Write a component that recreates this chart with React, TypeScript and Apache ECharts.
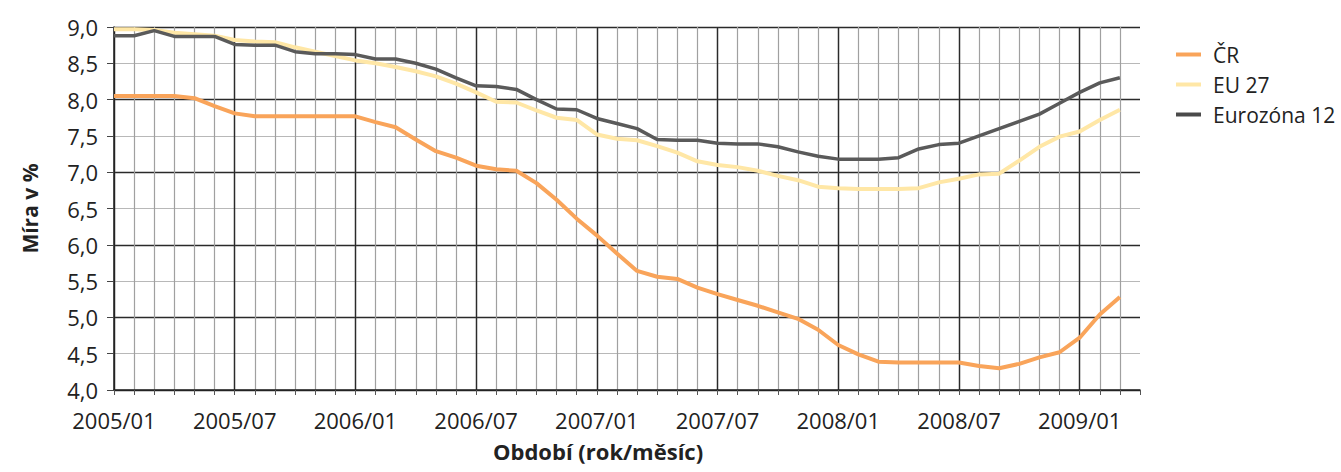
import React, { useEffect, useRef } from "react";
import * as echarts from "echarts";

const months = [
  "2005/01", "2005/02", "2005/03", "2005/04", "2005/05", "2005/06",
  "2005/07", "2005/08", "2005/09", "2005/10", "2005/11", "2005/12",
  "2006/01", "2006/02", "2006/03", "2006/04", "2006/05", "2006/06",
  "2006/07", "2006/08", "2006/09", "2006/10", "2006/11", "2006/12",
  "2007/01", "2007/02", "2007/03", "2007/04", "2007/05", "2007/06",
  "2007/07", "2007/08", "2007/09", "2007/10", "2007/11", "2007/12",
  "2008/01", "2008/02", "2008/03", "2008/04", "2008/05", "2008/06",
  "2008/07", "2008/08", "2008/09", "2008/10", "2008/11", "2008/12",
  "2009/01", "2009/02", "2009/03", "2009/04",
];

const cr = [
  8.05, 8.05, 8.05, 8.05, 8.02, 7.91, 7.81, 7.77, 7.77, 7.77, 7.77, 7.77,
  7.77, 7.69, 7.62, 7.45, 7.29, 7.2, 7.09, 7.04, 7.02, 6.85, 6.62, 6.36,
  6.13, 5.88, 5.64, 5.56, 5.53, 5.41, 5.32, 5.24, 5.16, 5.07, 4.98, 4.83,
  4.62, 4.49, 4.39, 4.38, 4.38, 4.38, 4.38, 4.33, 4.3, 4.36, 4.45, 4.52,
  4.72, 5.04, 5.28,
];

const eu27 = [
  8.97, 8.97, 8.96, 8.92, 8.9, 8.88, 8.82, 8.8, 8.79, 8.72, 8.66, 8.6,
  8.54, 8.5, 8.45, 8.39, 8.32, 8.22, 8.1, 7.97, 7.96, 7.85, 7.75, 7.72,
  7.52, 7.46, 7.44, 7.36, 7.27, 7.15, 7.1, 7.07, 7.02, 6.95, 6.89, 6.8,
  6.78, 6.77, 6.77, 6.77, 6.78, 6.86, 6.91, 6.97, 6.98, 7.16, 7.35, 7.49,
  7.56, 7.72, 7.86,
];

const ez12 = [
  8.88, 8.88, 8.95, 8.87, 8.87, 8.87, 8.76, 8.75, 8.75, 8.66, 8.63, 8.63,
  8.62, 8.56, 8.56, 8.5, 8.42, 8.3, 8.19, 8.18, 8.14, 8.0, 7.87, 7.86,
  7.74, 7.67, 7.6, 7.45, 7.44, 7.44, 7.4, 7.39, 7.39, 7.35, 7.28, 7.22,
  7.18, 7.18, 7.18, 7.2, 7.32, 7.38, 7.4, 7.5, 7.6, 7.7, 7.8, 7.95,
  8.1, 8.23, 8.3,
];

const seriesNames = ["ČR", "EU 27", "Eurozóna 12"];
const yTitle = "Míra v %";
const xTitle = "Období (rok/měsíc)";

const FONT = "'Open Sans', 'Noto Sans', sans-serif";

export default function App() {
  const ref = useRef<HTMLDivElement>(null);

  useEffect(() => {
    if (!ref.current) return;
    const chart = echarts.init(ref.current, undefined, { renderer: "svg" });
    const lastIdx = months.length - 1;
    chart.setOption({
      animation: false,
      backgroundColor: "#ffffff",
      textStyle: { fontFamily: FONT },
      grid: { left: 114, top: 27, right: 201, bottom: 82, containLabel: false },
      legend: {
        orient: "vertical",
        left: 1171,
        top: 39,
        itemWidth: 25,
        itemHeight: 4,
        itemGap: 9,
        icon: "rect",
        data: seriesNames,
        textStyle: {
          fontFamily: FONT,
          fontSize: 21,
          color: "#222",
          padding: [0, 0, 0, 7],
        },
      },
      xAxis: [
        {
          type: "category",
          data: months,
          boundaryGap: false,
          position: "bottom",
          axisLine: { show: true, lineStyle: { color: "#222", width: 1.5 } },
          axisTick: {
            show: true,
            interval: 0,
            length: 5,
            lineStyle: { color: "#555", width: 1 },
          },
          axisLabel: {
            interval: 5,
            fontFamily: FONT,
            fontSize: 22,
            lineHeight: 20,
            color: "#222",
            margin: 20,
          },
          splitLine: {
            show: true,
            interval: (i: number) => i < lastIdx,
            lineStyle: { color: "#a0a0a0", width: 1.2 },
          },
        },
        {
          type: "category",
          data: months,
          boundaryGap: false,
          position: "bottom",
          axisLine: { show: false },
          axisTick: { show: false },
          axisLabel: { show: false },
          splitLine: {
            show: true,
            interval: 5,
            lineStyle: { color: "#2a2a2a", width: 1.4 },
          },
        },
      ],
      yAxis: [
        {
          type: "value",
          min: 4,
          max: 9,
          interval: 0.5,
          position: "left",
          name: yTitle,
          nameLocation: "middle",
          nameGap: 74,
          nameRotate: 90,
          nameTextStyle: {
            fontFamily: FONT,
            fontSize: 21,
            fontWeight: "bold",
            color: "#222",
          },
          axisLine: { show: true, lineStyle: { color: "#222", width: 1.5 } },
          axisTick: {
            show: true,
            length: 7,
            lineStyle: { color: "#444", width: 1 },
          },
          axisLabel: {
            fontFamily: FONT,
            fontSize: 22,
            color: "#222",
            margin: 16,
            formatter: (v: number) => v.toFixed(1).replace(".", ","),
          },
          splitLine: {
            show: true,
            lineStyle: { color: "#b8b8b8", width: 1.2 },
          },
        },
        {
          type: "value",
          min: 4,
          max: 9,
          interval: 1,
          position: "left",
          axisLine: { show: false },
          axisTick: { show: false },
          axisLabel: { show: false },
          splitLine: {
            show: true,
            lineStyle: { color: "#2a2a2a", width: 1.4 },
          },
        },
      ],
      graphic: [
        {
          type: "text",
          left: 493,
          top: 440,
          style: {
            text: xTitle,
            fontFamily: FONT,
            fontSize: 22,
            lineHeight: 20,
            fontWeight: "bold",
            fill: "#222",
          },
        },
      ],
      series: [
        {
          name: seriesNames[0],
          type: "line",
          data: cr,
          showSymbol: false,
          lineStyle: { color: "#F9A45A", width: 4 },
          itemStyle: { color: "#F9A45A" },
        },
        {
          name: seriesNames[1],
          type: "line",
          data: eu27,
          showSymbol: false,
          lineStyle: { color: "#FFE7A6", width: 4 },
          itemStyle: { color: "#FFE7A6" },
        },
        {
          name: seriesNames[2],
          type: "line",
          data: ez12,
          showSymbol: false,
          lineStyle: { color: "#5a5a5a", width: 3.5 },
          itemStyle: { color: "#4a4a4a" },
        },
      ],
    });
    return () => chart.dispose();
  }, []);

  return (
    <div
      ref={ref}
      style={{ position: "fixed", left: 0, top: 0, width: 1341, height: 472 }}
    />
  );
}
